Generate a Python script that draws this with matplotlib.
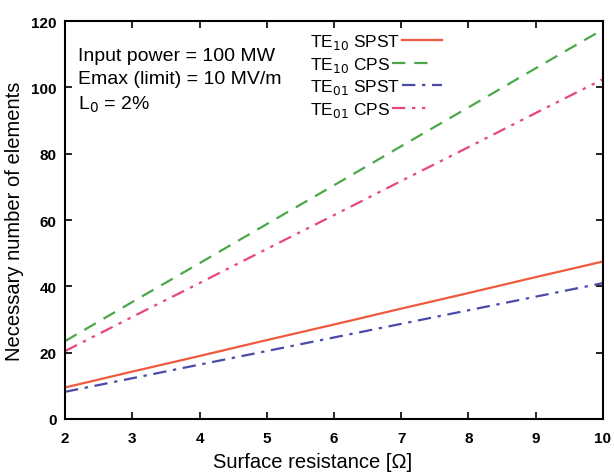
import matplotlib
matplotlib.use('Agg')
import matplotlib.pyplot as plt

plt.rcParams['font.family'] = ['Liberation Sans', 'DejaVu Sans']

RS = [2, 3, 4, 5, 6, 7, 8, 9, 10]
TE10_SPST = [9.5, 14.3, 19.0, 23.8, 28.5, 33.3, 38.0, 42.8, 47.5]
TE10_CPS = [23.5, 35.3, 47.0, 58.8, 70.5, 82.3, 94.0, 105.8, 117.5]
TE01_SPST = [8.2, 12.3, 16.4, 20.5, 24.6, 28.7, 32.8, 36.9, 41.0]
TE01_CPS = [20.5, 30.8, 41.0, 51.3, 61.5, 71.8, 82.0, 92.3, 102.5]
LABELS = ['TE$_{10}$ SPST', 'TE$_{10}$ CPS', 'TE$_{01}$ SPST', 'TE$_{01}$ CPS']

fig = plt.figure(figsize=(6.14, 4.77), dpi=100)
ax = fig.add_axes([0.106, 0.1195, 0.876, 0.834])

ax.plot(RS, TE10_SPST, color='#f05a3c', lw=1.6, label=LABELS[0])
ax.plot(RS, TE10_CPS, color='#4aa84a', lw=1.6, ls=(0, (6, 4)), label=LABELS[1])
ax.plot(RS, TE01_SPST, color='#4a4aa8', lw=1.6, ls=(0, (6, 3, 1.5, 3)), label=LABELS[2])
ax.plot(RS, TE01_CPS, color='#e8467c', lw=1.6, ls=(0, (6, 3, 1.5, 3, 1.5, 3)), label=LABELS[3])

ax.set_xlim(2, 10)
ax.set_ylim(0, 120)
ax.set_xticks(RS)
ax.set_yticks(range(0, 121, 20))
ax.tick_params(direction='in', top=True, right=True, length=5, width=1.2,
               labelsize=11)
ax.tick_params(axis='x', pad=9)
ax.tick_params(axis='y', pad=6)
for lab in ax.get_xticklabels() + ax.get_yticklabels():
  lab.set_fontweight('bold')
for s in ax.spines.values():
  s.set_linewidth(1.5)

ax.set_xlabel('Surface resistance [Ω]', fontsize=14.5)
ax.set_ylabel('Necessary number of elements', fontsize=14.5)
ax.xaxis.set_label_coords(0.461, -0.083)
ax.yaxis.set_label_coords(-0.076, 0.5)

ax.text(0.024, 0.935, 'Input power = 100 MW\nEmax (limit) = 10 MV/m\nL$_0$ = 2%',
        transform=ax.transAxes, va='top', ha='left', fontsize=14,
        linespacing=1.45)

leg = ax.legend(loc='upper left', bbox_to_anchor=(0.455, 0.972), frameon=False,
                markerfirst=False, fontsize=12.5, handlelength=2.3,
                handletextpad=0.1, labelspacing=0.2, borderpad=0,
                borderaxespad=0)
for col in leg._legend_handle_box.get_children():
  col.align = 'left'

fig.savefig('out.png', dpi=100)
